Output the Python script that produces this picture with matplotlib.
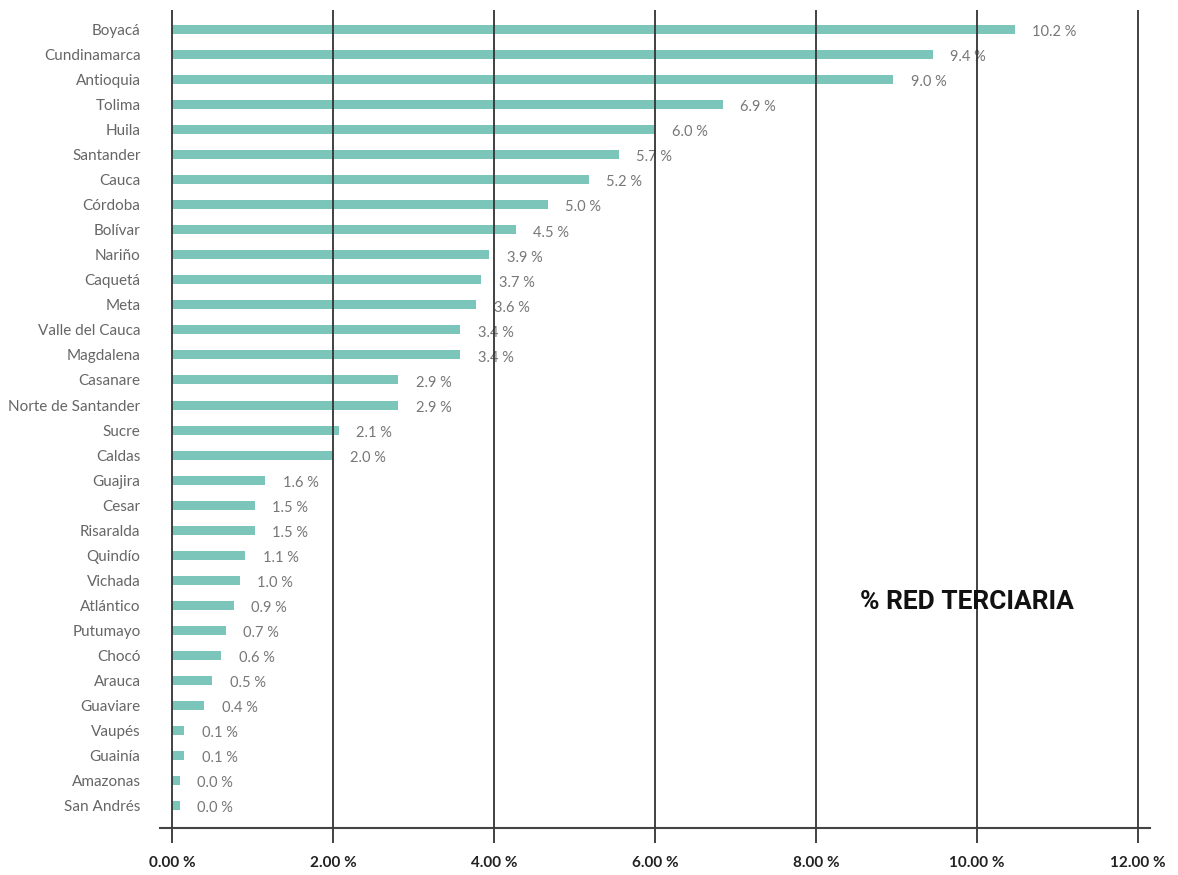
import matplotlib
matplotlib.use("Agg")
import matplotlib.pyplot as plt

# Departamentos y % red terciaria
departamentos = ["Boyacá", "Cundinamarca", "Antioquia", "Tolima", "Huila",
                 "Santander", "Cauca", "Córdoba", "Bolívar", "Nariño",
                 "Caquetá", "Meta", "Valle del Cauca", "Magdalena", "Casanare",
                 "Norte de Santander", "Sucre", "Caldas", "Guajira", "Cesar",
                 "Risaralda", "Quindío", "Vichada", "Atlántico", "Putumayo",
                 "Chocó", "Arauca", "Guaviare", "Vaupés", "Guainía",
                 "Amazonas", "San Andrés"]
# longitud de las barras
valores = [10.47, 9.45, 8.96, 6.84, 6.0, 5.55, 5.18, 4.67, 4.27, 3.94,
           3.84, 3.78, 3.58, 3.58, 2.81, 2.81, 2.07, 2.0, 1.16, 1.03,
           1.03, 0.91, 0.84, 0.77, 0.67, 0.61, 0.5, 0.4, 0.15, 0.15,
           0.1, 0.1]
# etiquetas mostradas
etiquetas = ["10.2", "9.4", "9.0", "6.9", "6.0", "5.7", "5.2", "5.0", "4.5",
             "3.9", "3.7", "3.6", "3.4", "3.4", "2.9", "2.9", "2.1", "2.0",
             "1.6", "1.5", "1.5", "1.1", "1.0", "0.9", "0.7", "0.6", "0.5",
             "0.4", "0.1", "0.1", "0.0", "0.0"]
ticks = [0, 2, 4, 6, 8, 10, 12]

W, H = 1178, 875
fig = plt.figure(figsize=(W / 100, H / 100), dpi=100)
ax = fig.add_axes([160 / W, (H - 828) / H, (1150 - 160) / W, (828 - 10) / H])

ypos = list(range(len(departamentos)))
ax.barh(ypos, valores, height=0.36, color="#7cc5bb", zorder=2)

for y, v, t in zip(ypos, valores, etiquetas):
    ax.annotate(t + " %", (v, y), xytext=(12.5, -2), textcoords="offset points",
                ha="left", va="center", fontsize=10.5, color="#777777",
                family="Lato")

ax.set_xlim(-0.15, 12.15)
ax.set_ylim(len(departamentos) - 1 + 0.89, -0.774)

ax.set_yticks(ypos)
ax.set_yticklabels(departamentos, fontsize=11, color="#666666", family="Lato")
ax.tick_params(axis="y", length=0, pad=14)

ax.set_xticks(ticks)
ax.set_xticklabels(["%.2f %%" % t for t in ticks], fontsize=11,
                   fontweight="bold", color="#222222", family="Lato")
ax.tick_params(axis="x", direction="out", length=11, width=1.3,
               color="#333333", pad=9)

for t in ticks:
    ax.axvline(t, color="#333333", lw=1.3, zorder=3)

for s in ["top", "right", "left"]:
    ax.spines[s].set_visible(False)
ax.spines["bottom"].set_color("#444444")
ax.spines["bottom"].set_linewidth(1.5)

fig.text(860 / W, 1 - 602 / H, "% RED TERCIARIA", fontsize=19,
         fontweight="bold", color="#111111", family="Roboto",
         ha="left", va="center")

fig.savefig("out.png", dpi=100)
